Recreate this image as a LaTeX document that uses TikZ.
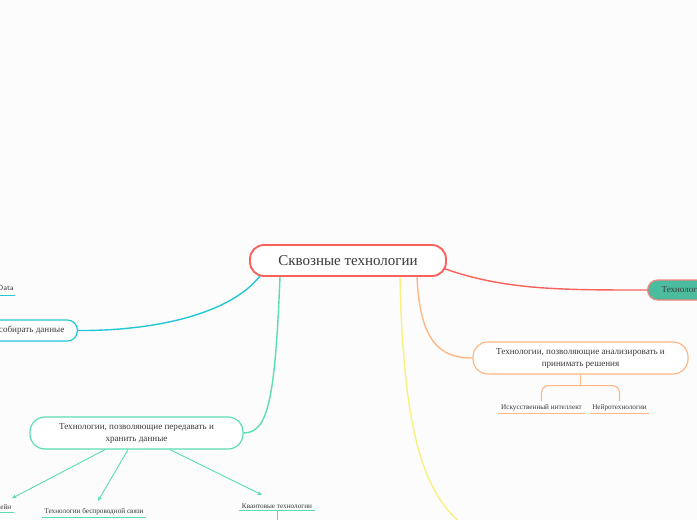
\documentclass[tikz,border=0pt]{standalone}
\usepackage{fontspec}
\setmainfont{Liberation Serif}
\usetikzlibrary{calc,arrows.meta}
\definecolor{cred}{HTML}{F7625C}
\definecolor{cpink}{HTML}{F28580}
\definecolor{cgreen}{HTML}{4CBC9E}
\definecolor{cteal}{HTML}{5ADCB4}
\definecolor{ccyan}{HTML}{22C8D6}
\definecolor{cyell}{HTML}{FAF07E}
\definecolor{corange}{HTML}{FFB784}
\definecolor{ctext}{HTML}{3A3A3A}
\tikzset{
  topic/.style={draw, rounded corners=15pt, fill=white, text=ctext, align=center, inner sep=0pt, line width=1.2pt},
  subitem/.style={text=ctext, inner xsep=2.5pt, inner ysep=1.5pt, font=\fontsize{7.2}{8}\selectfont},
  conn/.style={line width=1.4pt},
  arr/.style={line width=0.9pt, cteal, -{Stealth[length=4.5pt,width=4pt]}}
}
\begin{document}
\begin{tikzpicture}[x=1pt,y=-1pt]
\useasboundingbox (0,0) rectangle (697,520);
\fill[white!99!black] (0,0) rectangle (697,520);
\clip (0,0) rectangle (697,520);

% central
\node[topic, draw=cred, line width=1.9pt, rounded corners=14pt, minimum width=196pt, minimum height=31pt, font=\fontsize{15}{17}\selectfont] (c) at (348,260.5) {Сквозные технологии};

% right node
\node[topic, draw=cpink, fill=cgreen, rounded corners=10pt, minimum height=20pt, anchor=west, inner xsep=14pt, font=\fontsize{9}{10}\selectfont] (r) at (647,290) {Технологии, позволяющие действовать};

% orange node
\node[topic, draw=corange, minimum width=215pt, minimum height=32pt, font=\fontsize{9.1}{12}\selectfont] (o) at (580.5,358) {Технологии, позволяющие анализировать и\\принимать решения};

% green node
\node[topic, draw=cteal, minimum width=213pt, minimum height=32pt, font=\fontsize{9.1}{12}\selectfont] (g) at (136.5,433) {Технологии, позволяющие передавать и\\хранить данные};

% cyan node
\node[topic, draw=ccyan, rounded corners=10pt, minimum height=21pt, anchor=east, inner xsep=13pt, font=\fontsize{9.1}{10}\selectfont] (s) at (78,330.5) {Технологии, позволяющие собирать данные};

% cyan sub item
\node[subitem, anchor=east, inner xsep=1pt, font=\sffamily\fontsize{7.5}{8}\selectfont] (bd) at (15,289) {Big Data};
\draw[ccyan, line width=1.2pt] ($(bd.south west)+(0,1.5)$) -- ($(bd.south east)+(0,1.5)$);

% orange sub items
\node[subitem] (ai) at (541.5,407.5) {Искусственный интеллект};
\node[subitem] (nt) at (619.5,407.5) {Нейротехнологии};
\draw[corange, line width=1.1pt] ($(ai.south west)+(0,0.8)$) -- ($(ai.south east)+(0,0.8)$);
\draw[corange, line width=1.1pt] ($(nt.south west)+(0,0.8)$) -- ($(nt.south east)+(0,0.8)$);
\coordinate (oj) at ($(o.south)+(0,11)$);
\draw[corange, line width=1.1pt] (o.south) -- (oj);
\draw[corange, line width=1.1pt, rounded corners=7pt] ($(ai.north)+(0,-1.5)$) |- (oj) -| ($(nt.north)+(0,-1.5)$);

% green sub items
\node[subitem, anchor=east] (bc) at (14,507.5) {Блокчейн};
\node[subitem] (ws) at (94,512) {Технологии беспроводной связи};
\node[subitem] (qt) at (277,506) {Квантовые технологии};
\foreach \n in {bc,ws,qt}{
  \draw[cteal, line width=1.2pt] ($(\n.south west)+(0,0.8)$) -- ($(\n.south east)+(0,0.8)$);
}
\draw[cteal, line width=0.9pt] ($(qt.south)+(0,0.8)$) -- ++(0,15);
\draw[arr] ($(g.south)+(-31.5,0)$) -- ($(bc.north east)+(-2,-5)$);
\draw[arr] ($(g.south)+(-8.5,0)$) -- ($(ws.north)+(4,-6)$);
\draw[arr] ($(g.south)+(33.5,0)$) -- ($(qt.north)+(-15,-7)$);

% connectors from central
\draw[conn, ccyan] ($(c.south)+(-88,-1)$) .. controls (232,312) and (160,331) .. (s.east);
\draw[conn, cteal] ($(c.south)+(-68,0)$) .. controls (275,400) and (268,433) .. (g.east);
\draw[conn, cyell] ($(c.south)+(52,0)$) .. controls (403,420) and (420,490) .. (462,524);
\draw[conn, corange] ($(c.south)+(69,0)$) .. controls (420,342) and (440,358) .. (o.west);
\draw[conn, cred] ($(c.east)+(-3,8)$) .. controls (505,290) and (560,290) .. (r.west);
\end{tikzpicture}
\end{document}
